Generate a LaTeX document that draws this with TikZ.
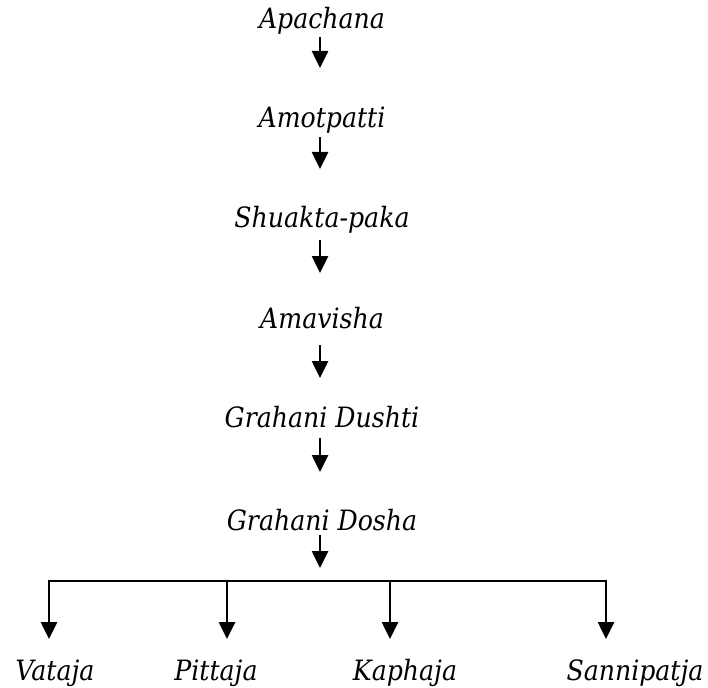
\documentclass[tikz,border=0pt]{standalone}
\usepackage{fontspec}
\setmainfont[FakeStretch=0.9]{DejaVu Serif}
\usetikzlibrary{arrows.meta}
\tikzset{
	stage/.style={anchor=base,inner sep=0pt,font=\fontsize{28}{32}\selectfont\itshape},
	flow/.style={->,line width=2.6pt}
}
\begin{document}
\begin{tikzpicture}[>={Triangle[width=16pt,length=17pt]},x=1pt,y=-1pt]
					\useasboundingbox (0,0) rectangle (708,687);
					\node[stage] (apachana) at (322,29) {Apachana};
					\node[stage] (amotpatti) at (322,128) {Amotpatti};
					\node[stage] (shuakta) at (322,227) {Shuakta-paka};
					\node[stage] (amavisha) at (322,328) {Amavisha};
					\node[stage] (dushti) at (322,427) {Grahani Dushti};
					\node[stage] (dosha) at (322,530) {Grahani Dosha};
					\node[stage] (vataja) at (55,680) {Vataja};
					\node[stage] (pittaja) at (216,680) {Pittaja};
					\node[stage] (kaphaja) at (405,680) {Kaphaja};
					\node[stage] (sannipatja) at (635,680) {Sannipatja};
					\coordinate (bar) at (320,581);
					\coordinate (b1) at (49,581);
					\coordinate (b2) at (227,581);
					\coordinate (b3) at (390,581);
					\coordinate (b4) at (606,581);
					\draw[flow] ([xshift=-2pt,yshift=-8pt]apachana.base) -- ([xshift=-2pt,yshift=60pt]amotpatti.base);
					\draw[flow] ([xshift=-2pt,yshift=-9pt]amotpatti.base) -- ([xshift=-2pt,yshift=58pt]shuakta.base);
					\draw[flow] ([xshift=-2pt,yshift=-13pt]shuakta.base) -- ([xshift=-2pt,yshift=55pt]amavisha.base);
					\draw[flow] ([xshift=-2pt,yshift=-17pt]amavisha.base) -- ([xshift=-2pt,yshift=49pt]dushti.base);
					\draw[flow] ([xshift=-2pt,yshift=-11pt]dushti.base) -- ([xshift=-2pt,yshift=58pt]dosha.base);
					\draw[flow] ([xshift=-2pt,yshift=-5pt]dosha.base) -- ([yshift=13pt]bar);
					\draw[flow,<->] ([yshift=41pt]b1 |- vataja.base) -- (b1) -- (b4) -- ([yshift=41pt]b4 |- sannipatja.base);
					\draw[flow] (b2) -- ([yshift=41pt]b2 |- pittaja.base);
					\draw[flow] (b3) -- ([yshift=41pt]b3 |- kaphaja.base);
\end{tikzpicture}
\end{document}
